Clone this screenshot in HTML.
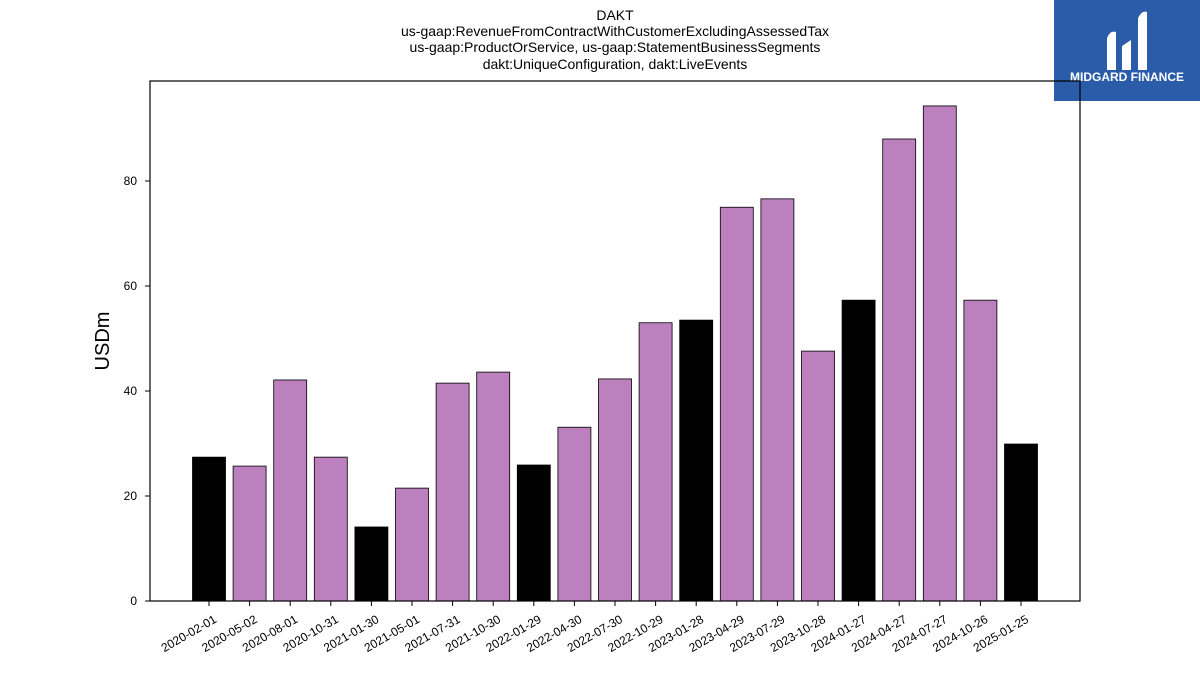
<!DOCTYPE html>
<html><head><meta charset="utf-8">
<style>
body{margin:0;background:#fff;font-family:"Liberation Sans","DejaVu Sans",sans-serif;}
#wrap{position:relative;width:1200px;height:675px;overflow:hidden;}
</style></head>
<body>
<div id="wrap">
<svg id="chart" width="1200" height="675" xmlns="http://www.w3.org/2000/svg">
  <g font-size="14" text-anchor="middle" fill="#000">
    <text x="615" y="20">DAKT</text>
    <text x="615" y="36">us-gaap:RevenueFromContractWithCustomerExcludingAssessedTax</text>
    <text x="615" y="52">us-gaap:ProductOrService, us-gaap:StatementBusinessSegments</text>
    <text x="615" y="69">dakt:UniqueConfiguration, dakt:LiveEvents</text>
  </g>
  <g>
    <rect x="1054" y="0" width="146" height="101" fill="#2a5caa"/>
    <path d="M1107 70 L1107 38 Q1110 30 1116 32 L1116 70 Z M1122 70 L1122 46 L1131 40 L1131 70 Z M1138 70 L1138 18 Q1142 10 1147 12 L1147 70 Z" fill="#fff"/>
    <text x="1127" y="81" font-size="12" font-weight="bold" fill="#fff" text-anchor="middle">MIDGARD FINANCE</text>
  </g>
  <text x="109" y="341" font-size="20" text-anchor="middle" transform="rotate(-90 109 341)">USDm</text>
  <g id="bars"></g>
  <g id="yticks"></g>
  <g id="xticks"></g>
  <rect x="150" y="81" width="930" height="520" fill="none" stroke="#000" stroke-width="1.2"/>
</svg>
</div>
<script>
const categories=["2020-02-01","2020-05-02","2020-08-01","2020-10-31","2021-01-30","2021-05-01","2021-07-31","2021-10-30","2022-01-29","2022-04-30","2022-07-30","2022-10-29","2023-01-28","2023-04-29","2023-07-29","2023-10-28","2024-01-27","2024-04-27","2024-07-27","2024-10-26","2025-01-25"];
const values=[27.4,25.7,42.1,27.4,14.1,21.5,41.5,43.6,25.9,33.1,42.3,53.0,53.5,75.0,76.6,47.6,57.3,88.0,94.3,57.3,29.9];
const isAnnual=[1,0,0,0,1,0,0,0,1,0,0,0,1,0,0,0,1,0,0,0,1];
const yTicks=[0,20,40,60,80];
const NS="http://www.w3.org/2000/svg";
const x0=209,step=(1021-209)/20,bw=33;
function xPos(i){return x0+i*step;}
function yPos(v){return 601-v*5.25;}
const bars=document.getElementById('bars'),yt=document.getElementById('yticks'),xt=document.getElementById('xticks');
categories.forEach((c,i)=>{
  const r=document.createElementNS(NS,'rect');
  
  
  r.setAttribute('x',xPos(i)-bw/2);r.setAttribute('y',yPos(values[i]));
  r.setAttribute('width',bw);r.setAttribute('height',601-yPos(values[i]));
  r.setAttribute('fill',isAnnual[i]?'#000':'#bb80bd');r.setAttribute('stroke','#000');r.setAttribute('stroke-width','0.8');
  bars.appendChild(r);
  const t=document.createElementNS(NS,'line');
  
  
  t.setAttribute('x1',xPos(i));t.setAttribute('x2',xPos(i));t.setAttribute('y1',601);t.setAttribute('y2',606);t.setAttribute('stroke','#000');
  xt.appendChild(t);
  const l=document.createElementNS(NS,'text');
  
  
  const lx=xPos(i)+4,ly=614;
  l.setAttribute('x',lx);l.setAttribute('y',ly);l.setAttribute('font-size','12');l.setAttribute('text-anchor','end');
  l.setAttribute('dominant-baseline','hanging');
  l.setAttribute('transform','rotate(-30 '+lx+' '+ly+')');
  l.textContent=c;xt.appendChild(l);
});
yTicks.forEach(v=>{
  const t=document.createElementNS(NS,'line');
  
  
  t.setAttribute('x1',145);t.setAttribute('x2',150);t.setAttribute('y1',yPos(v));t.setAttribute('y2',yPos(v));t.setAttribute('stroke','#000');
  yt.appendChild(t);
  const l=document.createElementNS(NS,'text');
  
  
  l.setAttribute('x',137);l.setAttribute('y',yPos(v)+4);l.setAttribute('font-size','12');l.setAttribute('text-anchor','end');
  l.textContent=v;yt.appendChild(l);
});
</script>
</body></html>
